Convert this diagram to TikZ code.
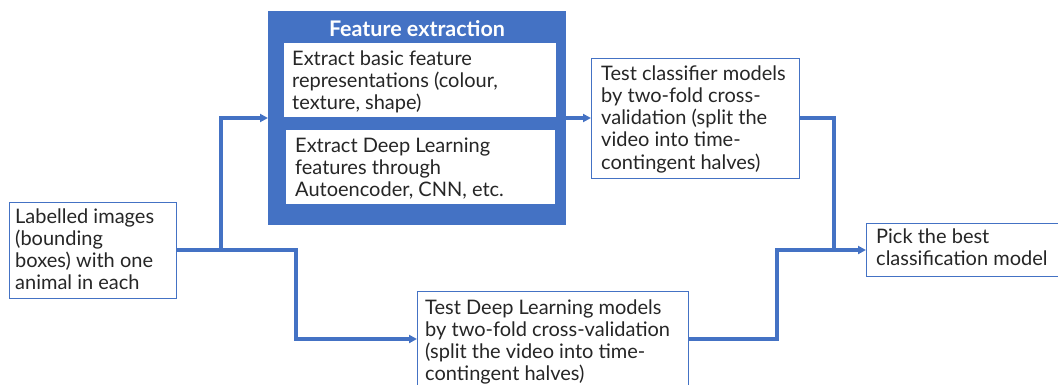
\documentclass[tikz,border=0pt]{standalone}
\usepackage{fontspec}
\setmainfont{Lato}
\usetikzlibrary{arrows.meta}
\definecolor{bl}{HTML}{4472C4}
\newcommand{\fs}{\fontsize{20}{22.3}\selectfont}
\newcommand{\ml}[1]{\begin{tabular}[t]{@{}l@{}}#1\end{tabular}}
\tikzset{
  box/.style={draw=bl, line width=1.1pt, fill=white, inner sep=0, anchor=north west},
  txt/.style={anchor=base west, inner sep=0, font=\fs, text=black!85},
  conn/.style={draw=bl, line width=3.2pt},
  arr/.style={conn, -{Triangle[length=8pt,width=8pt]}},
}
\begin{document}
\begin{tikzpicture}[x=1pt,y=-1pt]
\useasboundingbox (0,0) rectangle (1058,384);
% feature extraction
\node[fill=bl, inner sep=0, anchor=north west, minimum width=298pt, minimum height=214pt] (fe) at (268,11) {};
\node[font=\fontsize{21.5}{24}\selectfont\bfseries, text=white, inner sep=0, anchor=base] (fet) at (417,36) {Feature extraction};
\node[fill=white, inner sep=0, anchor=north west, minimum width=272pt, minimum height=74pt] (b1) at (284,43) {};
\node[txt] (t1) at (292,65) {\ml{Extract basic feature\\representations (colour,\\texture, shape)}};
\node[fill=white, inner sep=0, anchor=north west, minimum width=269pt, minimum height=74pt] (b2) at (286,130) {};
\node[txt] (t2) at (295,152) {\ml{Extract Deep Learning\\features through\\Autoencoder, CNN, etc.}};
% boxes
\node[box, minimum width=167pt, minimum height=96pt] (li) at (9,202) {};
\node[txt] (tli) at (15,223) {\ml{Labelled images\\(bounding\\boxes) with one\\animal in each}};
\node[box, minimum width=208pt, minimum height=120pt] (tc) at (591,58) {};
\node[txt] (ttc) at (601,80) {\ml{Test classifier models\\by two-fold cross-\\validation (split the\\video into time-\\contingent halves)}};
\node[box, minimum width=271pt, minimum height=100pt] (dl) at (417,291) {};
\node[txt] (tdl) at (425,314) {\ml{Test Deep Learning models\\by two-fold cross-validation\\(split the video into time-\\contingent halves)}};
\node[box, minimum width=193pt, minimum height=53pt] (pb) at (866,223) {};
\node[txt] (tpb) at (876,243) {\ml{Pick the best\\classification model}};
% connectors
\coordinate (s) at (li.east |- 0,250);
\coordinate (j1) at (221,250);
\coordinate (j2) at (296,250);
\draw[conn] (s) -- (j2) -- (296,339);
\draw[arr] (j1) -- (221,118) -- (fe.west |- 0,118);
\draw[arr] (294.4,339) -- (dl.west |- 0,339);
\draw[arr] (fe.east |- 0,118) -- (tc.west |- 0,118);
\draw[conn] (tc.east |- 0,118) -- (834,118) -- (834,250);
\draw[conn] (dl.east |- 0,339) -- (777,339) -- (777,250);
\draw[arr] (775.4,250) -- (pb.west |- 0,250);
\end{tikzpicture}
\end{document}
